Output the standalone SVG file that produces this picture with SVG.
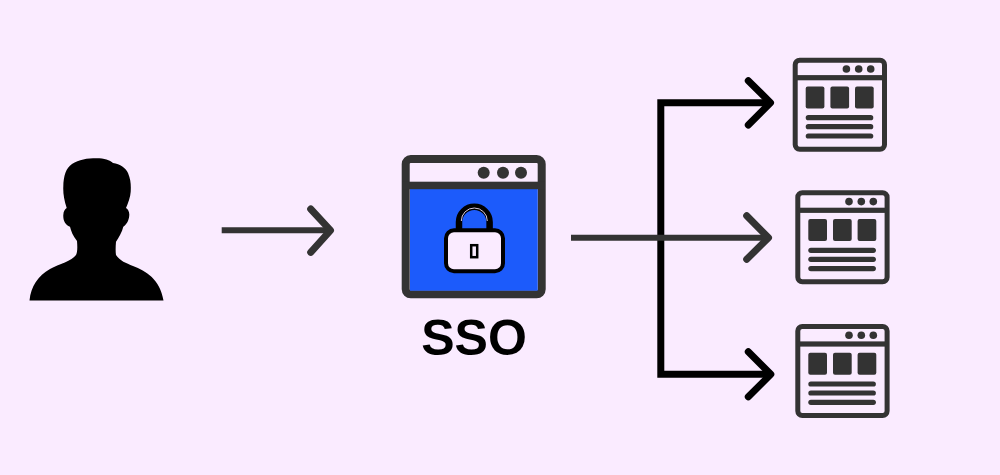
<svg xmlns="http://www.w3.org/2000/svg" width="1000" height="475" viewBox="0 0 1000 475">
<style>
.bg{fill:#faebff}
.dk{fill:#333333}
.gl{fill:none;stroke:#333333;stroke-width:6;stroke-linecap:butt}
.bl{fill:none;stroke:#000000;stroke-width:7;stroke-linejoin:miter}
.hd{fill:none;stroke-width:7;stroke-linecap:round;stroke-linejoin:round}
.ln{stroke:#333333;stroke-width:5.2;stroke-linecap:round}
.lbl{font-family:"Liberation Sans",Arial,sans-serif;font-weight:700;font-size:50px;fill:#000000;text-anchor:middle}
</style>
<defs>
<g id="page">
<rect x="2.5" y="2.5" width="89.3" height="89" rx="4.5" fill="#faebff" stroke="#333333" stroke-width="5"/>
<rect x="2" y="17.4" width="90" height="5.2" class="dk"/>
<circle cx="53.7" cy="11.3" r="3.8" class="dk"/><circle cx="66" cy="11.3" r="3.8" class="dk"/><circle cx="78" cy="11.3" r="3.8" class="dk"/>
<rect x="13" y="28.7" width="18.7" height="22" rx="2" class="dk"/>
<rect x="37.7" y="28.7" width="18.7" height="22" rx="2" class="dk"/>
<rect x="62.3" y="28.7" width="18.7" height="22" rx="2" class="dk"/>
<line x1="15.6" y1="60" x2="78" y2="60" class="ln"/>
<line x1="15.6" y1="69" x2="78" y2="69" class="ln"/>
<line x1="15.6" y1="78.3" x2="78" y2="78.3" class="ln"/>
</g>
</defs>
<rect class="bg" width="1000" height="475"/>
<g id="user">
<path d="M29.5 300.5C31 286 38 276 50 269C59 264 72 261 76 255C77.500 252 77.500 247 77 241C73 236 71 231 70 226.700C65 225 63 220 63.300 215C63.500 211 65 209 66.700 208C64 200 63 193 63.300 186.700C63.500 176 66 168 72 164C79 159.500 87 158.300 96.700 158.300C104 158.300 110 160 113 163C120 164 126 168 128 173C131 180 131 186 130.700 191.700C130.500 197 128 203 126 208C128 209 129.500 212 129.300 215C129 221 126 225 123.300 226.700C122 232 119 237 116 241.700C115.500 247 115.500 252 116 255C120 261 126 263 133 266C146 271 160 279 163.500 300.500Z" fill="#000000"/>
</g>
<g id="connectors">
<path class="bl" d="M768 102.700H660.800V374.300H768"/>
<path class="hd" stroke="#000000" d="M748.300 80.700L770.500 102.700L748.300 125"/>
<path class="hd" stroke="#000000" d="M748.300 351.700L770.800 374.300L748.300 396.700"/>
<path class="gl" d="M221.700 230.300H328"/>
<path class="hd" stroke="#333333" d="M310.700 209L330.500 230.300L310.700 252.300"/>
<path class="gl" d="M571 237.700H766"/>
<path class="hd" stroke="#333333" d="M746.700 215.700L768.500 237.700L746.700 259.300"/>
</g>
<g id="sso">
<rect x="405.700" y="159" width="136" height="135.300" rx="5" fill="#faebff" stroke="#333333" stroke-width="8"/>
<rect x="410" y="189" width="127.700" height="101.700" fill="#1c5bfb"/>
<rect x="402" y="181.700" width="143" height="7.500" class="dk"/>
<circle cx="483.700" cy="172.700" r="6" class="dk"/><circle cx="503" cy="172.700" r="6" class="dk"/><circle cx="521" cy="172.700" r="6" class="dk"/>
<path d="M459 230V222A15.300 15.300 0 0 1 489.600 222V230" fill="none" stroke="#000000" stroke-width="6.500"/>
<path d="M461.300 221A13 13 0 0 1 487.300 221" fill="none" stroke="#d8cbe0" stroke-width="1"/>
<rect x="446" y="230.300" width="57" height="41" rx="8" fill="#faebff" stroke="#000000" stroke-width="4"/>
<rect x="471.200" y="245.200" width="6" height="12" fill="#faebff" stroke="#000000" stroke-width="2.500"/>
<text class="lbl" x="474" y="355">SSO</text>
</g>
<use id="app-1" href="#page" x="792.700" y="57.700"/>
<use id="app-2" href="#page" x="795.300" y="190.300"/>
<use id="app-3" href="#page" x="795.300" y="324"/>
</svg>
